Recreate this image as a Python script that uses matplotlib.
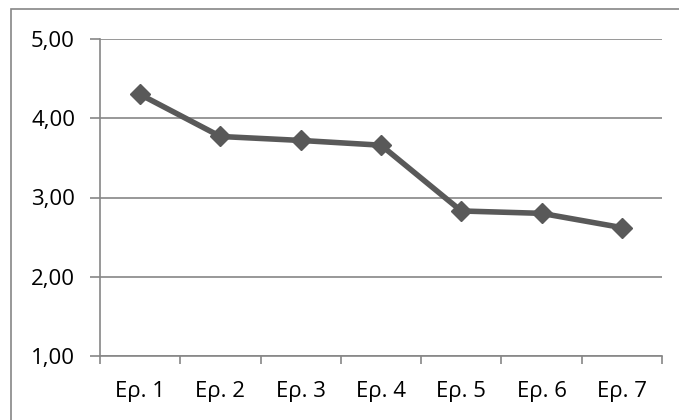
import matplotlib
matplotlib.use('Agg')

import matplotlib.pyplot as plt
from matplotlib.patches import Rectangle
from matplotlib.ticker import FixedLocator, FuncFormatter

# Μέσος όρος ανά ερώτηση
categories = ['Ερ. 1', 'Ερ. 2', 'Ερ. 3', 'Ερ. 4', 'Ερ. 5', 'Ερ. 6', 'Ερ. 7']
values = [4.30, 3.77, 3.72, 3.66, 2.83, 2.80, 2.62]
y_ticks = [1.0, 2.0, 3.0, 4.0, 5.0]

plt.rcParams['font.family'] = ['Open Sans', 'DejaVu Sans']

grey = '#868686'
line_color = '#595959'

fig = plt.figure(figsize=(6.79, 4.20), dpi=100)
ax = fig.add_axes([100 / 679, 1 - 356 / 420, 562 / 679, 317 / 420])

x = list(range(len(categories)))
ax.plot(x, values, color=line_color, linewidth=4, marker='D',
        markersize=10, markerfacecolor=line_color, markeredgecolor=line_color,
        zorder=3, solid_joinstyle='round')

ax.set_xlim(-0.5, len(categories) - 0.5)
ax.set_ylim(1.0, 5.0)

# κατηγορίες στο κέντρο, γραμμές υποδιαίρεσης ανάμεσα
ax.set_xticks(x)
ax.set_xticklabels(categories)
ax.xaxis.set_minor_locator(FixedLocator([i - 0.5 for i in range(len(categories) + 1)]))
ax.tick_params(axis='x', which='major', length=0, pad=18, labelsize=16, labelcolor='black')
ax.tick_params(axis='x', which='minor', length=6, width=1.2, color=grey, direction='out')

ax.set_yticks(y_ticks)
ax.yaxis.set_major_formatter(FuncFormatter(lambda v, _: f'{v:.2f}'.replace('.', ',')))
ax.tick_params(axis='y', length=7, width=1.2, color=grey, pad=11, labelsize=16, labelcolor='black')

ax.grid(axis='y', color=grey, linewidth=1.2)
ax.set_axisbelow(True)

for side in ['top', 'right']:
    ax.spines[side].set_visible(False)
for side in ['left', 'bottom']:
    ax.spines[side].set_color(grey)
    ax.spines[side].set_linewidth(1.2)

# περίγραμμα της περιοχής γραφήματος
fig.patches.append(Rectangle((11 / 679, -0.1), 1.2, 1 - 9 / 420 + 0.1,
                             transform=fig.transFigure, fill=False,
                             edgecolor=grey, linewidth=1.2))

fig.savefig('out.png', dpi=100, facecolor='white')
